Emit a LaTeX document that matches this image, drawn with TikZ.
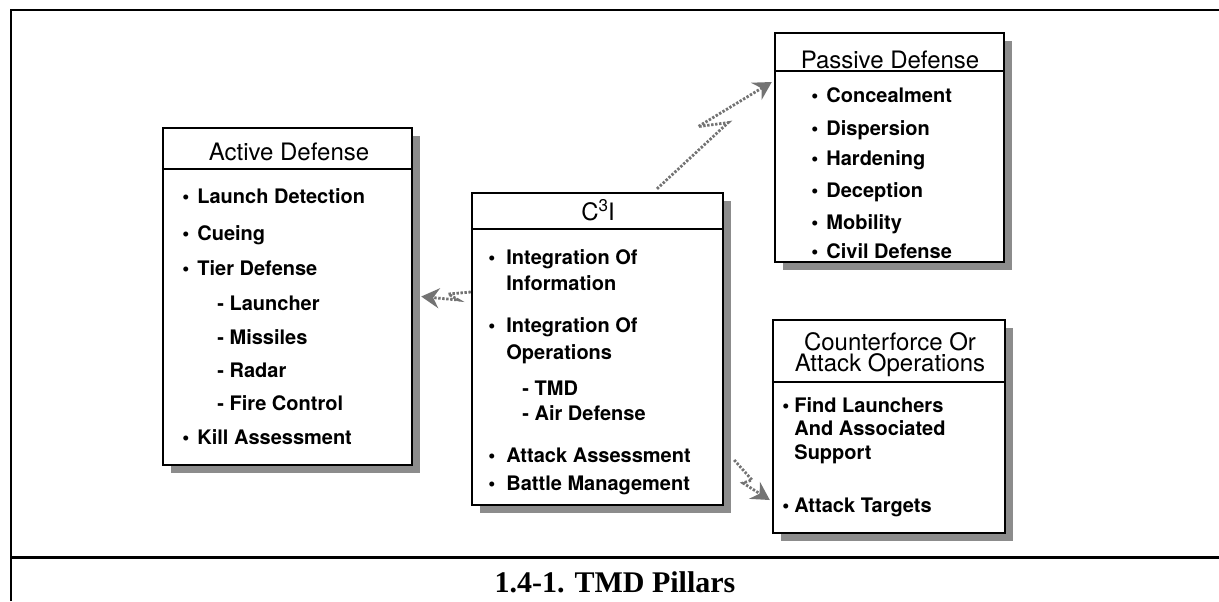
\documentclass[tikz,border=0pt]{standalone}
\usepackage{fontspec}
\newfontfamily\hv{TeX Gyre Heros}
\newfontfamily\capserif{Liberation Serif}
\usetikzlibrary{shadows,arrows.meta,calc}
\newcommand{\pbul}[1][7.5pt]{\makebox[#1][l]{•}}
\begin{document}
\begin{tikzpicture}[x=0.5pt,y=-0.5pt,
  pillar/.style={draw=black, line width=1.2pt, fill=white, rectangle, inner sep=0pt,
    general shadow={fill=black!45, shadow xshift=4pt, shadow yshift=-4pt}},
  sepline/.style={draw=black, line width=1pt},
  hdr/.style={font=\hv\fontsize{12}{14}\selectfont, inner sep=0pt, anchor=base},
  itm/.style={font=\hv\bfseries\fontsize{10}{12}\selectfont, inner sep=0pt, anchor=base west},
  bolt/.style={draw=black!55, line width=1.4pt, dash pattern=on 1.2pt off 0.8pt,
    -{Stealth[length=9pt,width=10pt,inset=3pt]}},
  frameline/.style={line width=1.1pt}
]
\useasboundingbox (0,0) rectangle (1219,601);

% frame
\draw[frameline] (11,601) -- (11,10) -- (1219,10);
\draw[line width=1.5pt] (11,557) -- (1219,557);
\node[font=\capserif\bfseries\fontsize{15}{18}\selectfont, anchor=base, inner sep=0pt] (cap) at (615,592) {1.4-1. TMD Pillars};

% boxes
\node[pillar, minimum width=124.5pt, minimum height=168.5pt] (act) at (287.5,296.5) {};
\node[pillar, minimum width=125.5pt, minimum height=156pt] (c3i) at (597.5,349) {};
\node[pillar, minimum width=114.5pt, minimum height=114.5pt] (pas) at (889.5,147.5) {};
\node[pillar, minimum width=116pt, minimum height=106.5pt] (cnt) at (889,426.5) {};

\draw[sepline] ([yshift=-21pt]act.north west) -- ([yshift=-21pt]act.north east);
\draw[sepline] ([yshift=-18.5pt]c3i.north west) -- ([yshift=-18.5pt]c3i.north east);
\draw[sepline] ([yshift=-19.5pt]pas.north west) -- ([yshift=-19.5pt]pas.north east);
\draw[sepline] ([yshift=-31.5pt]cnt.north west) -- ([yshift=-31.5pt]cnt.north east);

% Active Defense
\node[hdr] (acth) at (289,160.5) {Active Defense};
\node[itm] (ad1) at (182,203) {\pbul Launch Detection};
\node[itm] (ad2) at (182,240) {\pbul Cueing};
\node[itm] (ad3) at (182,275) {\pbul Tier Defense};
\node[itm] (ad4) at (217,310) {- Launcher};
\node[itm] (ad5) at (217,344) {- Missiles};
\node[itm] (ad6) at (217,377) {- Radar};
\node[itm] (ad7) at (217,410) {- Fire Control};
\node[itm] (ad8) at (182,444) {\pbul Kill Assessment};

% C3I
\node[hdr] (c3ih) at (598,220.5) {C\raisebox{4.5pt}{\fontsize{8.5}{9}\selectfont 3}I};
\node[itm] (ci1) at (488,264) {\pbul[9pt]Integration Of};
\node[itm] (ci2) at (506,290) {Information};
\node[itm] (ci3) at (488,332) {\pbul[9pt]Integration Of};
\node[itm] (ci4) at (506,359) {Operations};
\node[itm] (ci5) at (522,395) {- TMD};
\node[itm] (ci6) at (522,420) {- Air Defense};
\node[itm] (ci7) at (488,462) {\pbul[9pt]Attack Assessment};
\node[itm] (ci8) at (488,490) {\pbul[9pt]Battle Management};

% Passive Defense
\node[hdr] (pash) at (890,68.5) {Passive Defense};
\node[itm] (pd1) at (811,102) {\pbul Concealment};
\node[itm] (pd2) at (811,135) {\pbul Dispersion};
\node[itm] (pd3) at (811,165) {\pbul Hardening};
\node[itm] (pd4) at (811,197) {\pbul Deception};
\node[itm] (pd5) at (811,229) {\pbul Mobility};
\node[itm] (pd6) at (811,258) {\pbul Civil Defense};

% Counterforce
\node[hdr] (cnth1) at (890,350) {Counterforce Or};
\node[hdr] (cnth2) at (890,371) {Attack Operations};
\node[itm] (cf1) at (782,412) {\pbul[6pt]Find Launchers};
\node[itm] (cf2) at (794,435) {And Associated};
\node[itm] (cf3) at (794,459) {Support};
\node[itm] (cf4) at (782,512) {\pbul[6pt]Attack Targets};

% lightning connectors
\coordinate (b1s) at ([yshift=28.5pt]c3i.west);
\coordinate (b1e) at ([xshift=4pt]act.east);
\draw[bolt] (b1s) -- ($(b1s)!0.45!(b1e)$) -- ++(10,6) -- (b1e);

\coordinate (b2s) at ([xshift=29.75pt,yshift=1.5pt]c3i.north);
\coordinate (b2e) at ([xshift=-1pt,yshift=32.75pt]pas.west);
\draw[bolt] (b2s) -- ($(b2s)!0.62!(b2e)$) -- ++(-30,4) -- (b2e);

\coordinate (b3s) at ([xshift=5pt,yshift=-55.5pt]c3i.east);
\coordinate (b3e) at ([xshift=-1pt,yshift=-36.75pt]cnt.west);
\draw[bolt] (b3s) -- ($(b3s)!0.5!(b3e)$) -- ++(-9,3) -- (b3e);
\end{tikzpicture}
\end{document}
